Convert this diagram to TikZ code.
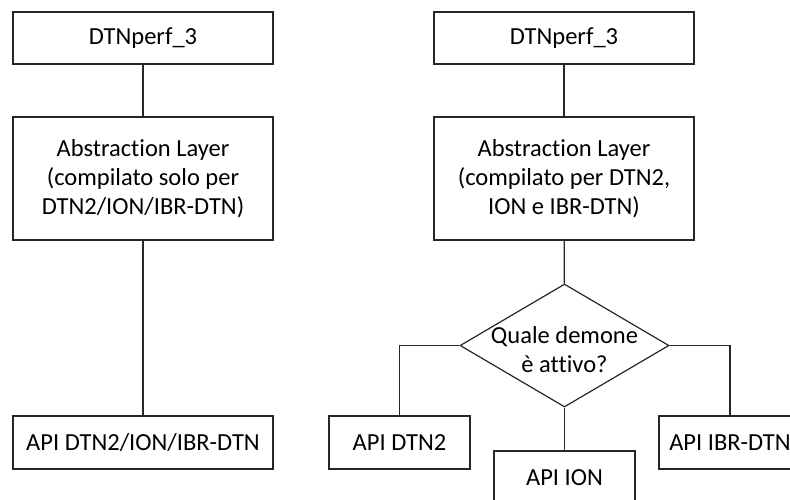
\documentclass[tikz,border=0pt]{standalone}
\usepackage{fontspec}
\setmainfont[Ligatures=NoCommon]{Carlito}
\usetikzlibrary{shapes.geometric}
\begin{document}
\begin{tikzpicture}[x=1pt,y=-1pt,
  every node/.style={font=\fontsize{24.5}{29}\selectfont, text=black},
  box/.style={draw=black!85, line width=1.2pt, fill=white, rectangle, inner sep=0pt, align=center},
  conn/.style={draw=black!85, line width=1.2pt},
  decision/.style={draw=black!85, line width=1.2pt, fill=white, diamond, inner sep=0pt, minimum width=209pt, minimum height=123pt}]
\useasboundingbox (0,0) rectangle (790,499);
\clip (0,0) rectangle (790,499);
% left column
\node[box, minimum width=260pt, minimum height=52pt] (a1) at (143,38) {DTNperf\_3};
\node[box, minimum width=260pt, minimum height=123pt] (b1) at (143,178.5) {Abstraction Layer\\(compilato solo per\\DTN2/ION/IBR-DTN)};
\node[box, minimum width=260pt, minimum height=53pt] (c1) at (143,442.5) {API DTN2/ION/IBR-DTN};
\draw[conn] (a1) -- (b1);
\draw[conn] (b1) -- (c1);
% right column
\node[box, minimum width=260pt, minimum height=52pt] (a2) at (564,38) {DTNperf\_3};
\node[box, minimum width=260pt, minimum height=123pt] (b2) at (564,178.5) {Abstraction Layer\\(compilato per DTN2,\\ION e IBR-DTN)};
\node[decision] (q) at (564.5,345.5) {};
\node[align=center] (qt) at (564.5,350) {Quale demone\\è attivo?};
\node[box, minimum width=141pt, minimum height=53pt] (d2) at (399.5,442.5) {API DTN2};
\node[box, minimum width=141pt, minimum height=53pt] (i2) at (564.5,477.5) {API ION};
\node[box, minimum width=142pt, minimum height=53pt] (r2) at (730,442.5) {API IBR-DTN};
\draw[conn] (a2) -- (b2);
\draw[conn] (b2) -- (q);
\draw[conn] (q.west) -| (d2);
\draw[conn] (q.east) -| (r2);
\draw[conn] (q.south) -- (i2);
\end{tikzpicture}
\end{document}
